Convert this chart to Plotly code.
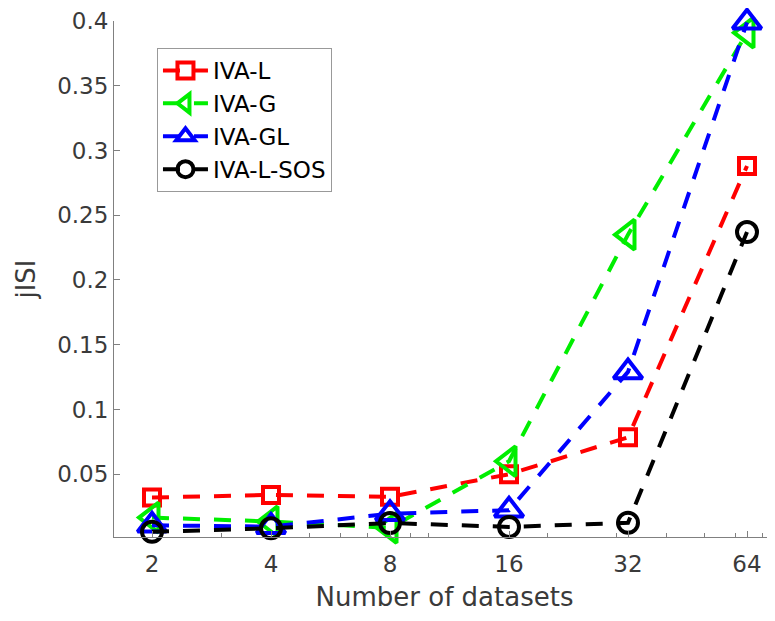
import plotly.graph_objects as go

datasets = [2, 4, 8, 16, 32, 64]
iva_l = [0.032, 0.034, 0.0325, 0.050, 0.0785, 0.288]
iva_g = [0.0165, 0.0135, 0.0085, 0.060, 0.235, 0.391]
iva_gl = [0.0105, 0.0095, 0.0195, 0.0222, 0.129, 0.399]
iva_l_sos = [0.0055, 0.0082, 0.0123, 0.0093, 0.0125, 0.237]

y_ticks = [0.05, 0.1, 0.15, 0.2, 0.25, 0.3, 0.35, 0.4]
y_ticklabels = ["0.05", "0.1", "0.15", "0.2", "0.25", "0.3", "0.35", "0.4"]
x_ticks = [2, 4, 8, 16, 32, 64]
x_ticklabels = ["2", "4", "8", "16", "32", "64"]
x_minor = [3, 5, 6, 7, 9, 10, 20, 30, 40, 50, 60, 70]

series = [
    ("IVA-L", iva_l, "#ff0000", "square-open", 16),
    ("IVA-G", iva_g, "#00ee00", "triangle-left-open", 26),
    ("IVA-GL", iva_gl, "#0000ff", "triangle-up-open", 25),
    ("IVA-L-SOS", iva_l_sos, "#000000", "circle-open", 20),
]

fig = go.Figure()
for name, vals, color, sym, size in series:
    fig.add_trace(go.Scatter(
        x=datasets, y=vals, name=name, mode="lines+markers",
        cliponaxis=False,
        line=dict(color=color, width=4, dash="17px,14px"),
        marker=dict(symbol=sym, size=size, color=color,
                    line=dict(color=color, width=4)),
    ))

font_family = "DejaVu Sans, Verdana, sans-serif"
text_color = "#3a3a3a"
axis_color = "#808080"

fig.update_layout(
    width=767, height=613,
    margin=dict(l=106, r=0, t=13, b=84),
    plot_bgcolor="white", paper_bgcolor="white",
    font=dict(family=font_family, color=text_color, size=23),
    showlegend=True,
    legend=dict(
        x=0.065, y=0.9477, xanchor="left", yanchor="top",
        bgcolor="white", bordercolor="#999999", borderwidth=1,
        font=dict(size=23, color="#000000", family=font_family),
        tracegroupgap=0, itemwidth=45,
    ),
    xaxis=dict(
        type="log", range=[0.2049, 1.877],
        tickmode="array", tickvals=x_ticks, ticktext=x_ticklabels,
        ticks="inside", ticklen=6, tickcolor=axis_color, tickwidth=1,
        ticklabelstandoff=6,
        minor=dict(tickmode="array", tickvals=x_minor, ticks="inside",
                   ticklen=4, tickcolor=axis_color, showgrid=False),
        showline=True, linecolor=axis_color, linewidth=1,
        showgrid=False, zeroline=False,
        tickfont=dict(size=23, color=text_color),
        title=dict(text="Number of datasets", font=dict(size=26, color=text_color), standoff=12),
    ),
    yaxis=dict(
        range=[0.0015, 0.4],
        tickmode="array", tickvals=y_ticks, ticktext=y_ticklabels,
        ticks="inside", ticklen=6, tickcolor=axis_color, tickwidth=1,
        showline=True, linecolor=axis_color, linewidth=1,
        showgrid=False, zeroline=False,
        tickfont=dict(size=23, color=text_color),
        title=dict(text="jISI", font=dict(size=26, color=text_color), standoff=14),
    ),
)

fig.write_html("out.html")
